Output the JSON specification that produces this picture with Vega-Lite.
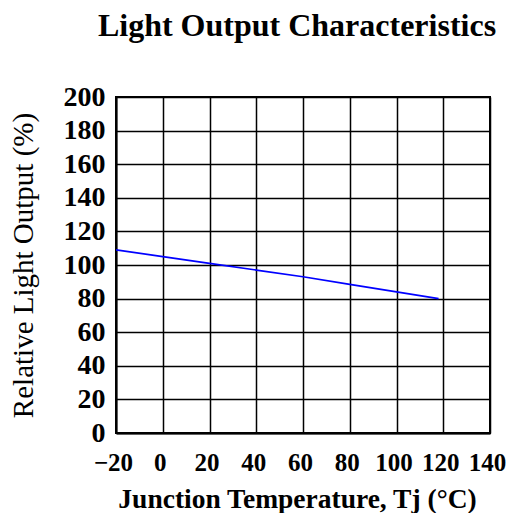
{
  "$schema": "https://vega.github.io/schema/vega-lite/v6.json",
  "autosize": {"type": "none"},
  "padding": {"left": 116, "top": 97, "right": 18, "bottom": 80},
  "width": 374,
  "height": 336,
  "background": "white",
  "title": {
    "text": "Light Output Characteristics",
    "font": "Liberation Serif",
    "fontSize": 32,
    "fontWeight": "bold",
    "color": "black",
    "anchor": "middle",
    "frame": "group",
    "dx": -6,
    "offset": 40
  },
  "data": {
    "values": [
      {"temp": -20, "output": 109},
      {"temp": 0, "output": 105},
      {"temp": 20, "output": 101},
      {"temp": 40, "output": 97},
      {"temp": 60, "output": 93},
      {"temp": 80, "output": 88.5},
      {"temp": 100, "output": 84},
      {"temp": 118, "output": 80}
    ]
  },
  "mark": {"type": "line", "color": "#0000ff", "strokeWidth": 1.7, "clip": true},
  "encoding": {
    "x": {
      "field": "temp",
      "type": "quantitative",
      "scale": {"domain": [-20, 140], "nice": false, "zero": false},
      "axis": {
        "values": [-20, 0, 20, 40, 60, 80, 100, 120, 140],
        "title": "Junction Temperature, Tj (°C)",
        "titleFont": "Liberation Serif",
        "titleFontSize": 27.5,
        "titleFontWeight": "bold",
        "titleColor": "black",
        "titleX": 181,
        "titleY": 74,
        "titleBaseline": "alphabetic",
        "titleAnchor": "middle",
        "labelFont": "Liberation Serif",
        "labelFontSize": 25,
        "labelFontWeight": "bold",
        "labelColor": "black",
        "labelBaseline": "alphabetic",
        "labelPadding": 37,
        "labelOffset": -3,
        "labelOverlap": false,
        "labelFlush": false,
        "ticks": false,
        "tickSize": 0,
        "domainColor": "black",
        "domainWidth": 2,
        "gridColor": "black",
        "gridWidth": 1.5,
        "gridOpacity": 1
      }
    },
    "y": {
      "field": "output",
      "type": "quantitative",
      "scale": {"domain": [0, 200], "nice": false},
      "axis": {
        "values": [0, 20, 40, 60, 80, 100, 120, 140, 160, 180, 200],
        "title": "Relative Light Output (%)",
        "titleFont": "Liberation Serif",
        "titleFontSize": 29,
        "titleFontWeight": "normal",
        "titleColor": "black",
        "titleX": -84,
        "titleY": 168,
        "titleAngle": -90,
        "titleBaseline": "alphabetic",
        "titleAnchor": "middle",
        "labelFont": "Liberation Serif",
        "labelFontSize": 28,
        "labelFontWeight": "bold",
        "labelColor": "black",
        "labelBaseline": "middle",
        "labelPadding": 11,
        "labelOverlap": false,
        "labelFlush": false,
        "ticks": false,
        "tickSize": 0,
        "domainColor": "black",
        "domainWidth": 2,
        "gridColor": "black",
        "gridWidth": 1.5,
        "gridOpacity": 1
      }
    }
  },
  "config": {
    "view": {"stroke": "black", "strokeWidth": 2}
  }
}
